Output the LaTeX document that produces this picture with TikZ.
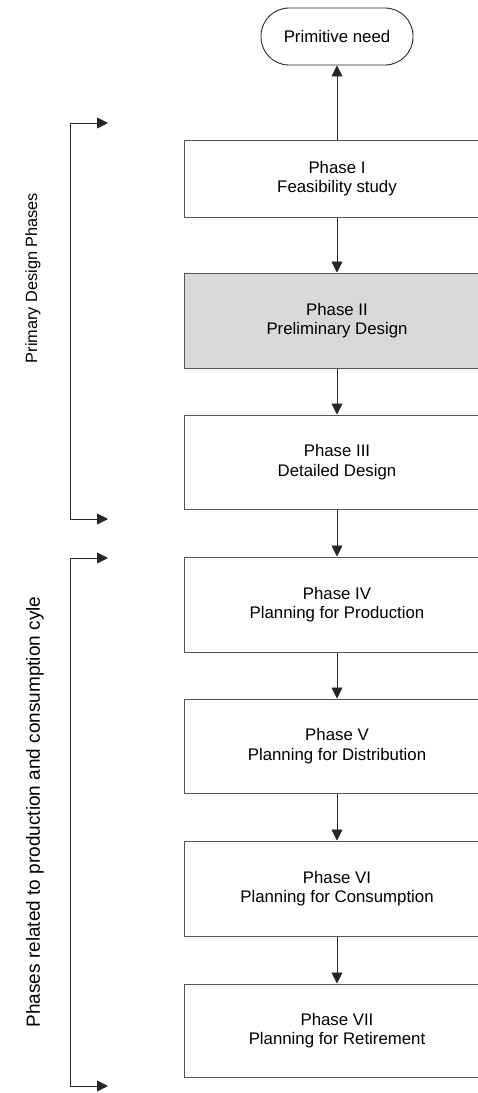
\documentclass[tikz,border=0pt]{standalone}
\usepackage{fontspec}
\setmainfont{Liberation Sans}
\usetikzlibrary{arrows.meta}
\definecolor{edgegray}{HTML}{555555}
\definecolor{phasefill}{HTML}{D9D9D9}
\begin{document}
\begin{tikzpicture}[x=1pt,y=-1pt,
  font=\fontsize{16.8}{19.5}\selectfont,
  phasebox/.style={draw=edgegray,line width=1pt,minimum width=306pt,align=center,inner sep=0pt},
  flow/.style={draw=black!85,line width=0.9pt,-{Triangle[length=11pt,width=11pt]}},
  bracket/.style={draw=black!85,line width=0.9pt,{Triangle[length=11pt,width=11pt]}-{Triangle[length=11pt,width=11pt]}}]
\useasboundingbox (0,0) rectangle (478,1093);
\clip (0,0) rectangle (478,1093);

% start terminator
\node[draw=black!85,line width=0.9pt,rounded corners=28pt,minimum width=152pt,minimum height=57pt,inner sep=0pt]
  (need) at (337,36.5) {Primitive need};

% phase boxes
\node[phasebox,minimum height=77pt]  (p1) at (337,178.5) {Phase I\\Feasibility study};
\node[phasebox,minimum height=95pt,fill=phasefill] (p2) at (337,320.5) {Phase II\\Preliminary Design};
\node[phasebox,minimum height=94pt]  (p3) at (337,462) {Phase III\\Detailed Design};
\node[phasebox,minimum height=95pt]  (p4) at (337,604.5) {Phase IV\\Planning for Production};
\node[phasebox,minimum height=94pt]  (p5) at (337,746) {Phase V\\Planning for Distribution};
\node[phasebox,minimum height=95pt]  (p6) at (337,888.5) {Phase VI\\Planning for Consumption};
\node[phasebox,minimum height=93pt]  (p7) at (337,1030.5) {Phase VII\\Planning for Retirement};

% flow arrows
\draw[flow] (p1.north) -- (need.south);
\draw[flow] (p1) -- (p2);
\draw[flow] (p2) -- (p3);
\draw[flow] (p3) -- (p4);
\draw[flow] (p4) -- (p5);
\draw[flow] (p5) -- (p6);
\draw[flow] (p6) -- (p7);

% group brackets
\coordinate (a1) at (108,123);
\coordinate (a2) at (70,123);
\coordinate (a3) at (70,519);
\coordinate (a4) at (108,519);
\coordinate (b1) at (108,558);
\coordinate (b2) at (70,558);
\coordinate (b3) at (70,1086);
\coordinate (b4) at (108,1086);
\draw[bracket] (a1) -- (a2) -- (a3) -- (a4);
\draw[bracket] (b1) -- (b2) -- (b3) -- (b4);

% group labels
\node[rotate=90,font=\fontsize{16.3}{19}\selectfont] (lab1) at (33,278) {Primary Design Phases};
\node[rotate=90,font=\fontsize{19}{22}\selectfont] (lab2) at (35,812) {Phases related to production and consumption cyle};
\end{tikzpicture}
\end{document}
